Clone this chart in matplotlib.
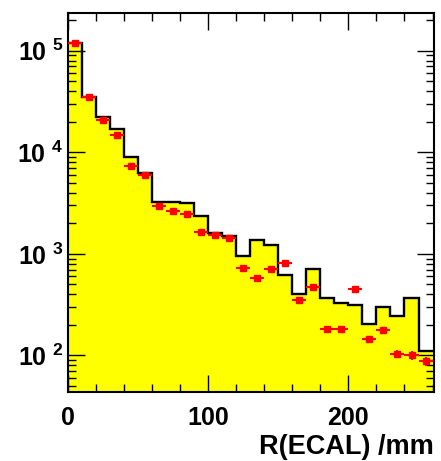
import numpy as np
import matplotlib.pyplot as plt
from matplotlib.ticker import MultipleLocator, LogLocator, FixedLocator, NullFormatter

plt.rcParams['font.family'] = ['Liberation Sans', 'DejaVu Sans']
plt.rcParams['font.weight'] = 'bold'
plt.rcParams['mathtext.fontset'] = 'custom'
plt.rcParams['mathtext.rm'] = 'Liberation Sans:bold'
plt.rcParams['mathtext.bf'] = 'Liberation Sans:bold'

# bin edges, R(ECAL) in mm
edges = np.arange(0, 270, 10)
# simulation (yellow histogram)
mc = [1.2e5, 3.52e4, 2.24e4, 1.68e4, 9.0e3, 6.2e3, 3.23e3, 3.23e3, 3.14e3, 2.35e3,
      1.59e3, 1.5e3, 948, 1.36e3, 1.22e3, 617, 401, 707, 364, 325,
      312, 206, 297, 245, 364, 111]
# data (red points)
data = [1.18e5, 3.47e4, 2.07e4, 1.47e4, 7.36e3, 6.0e3, 2.97e3, 2.64e3, 2.48e3, 1.65e3,
        1.55e3, 1.44e3, 728, 585, 706, 804, 350, 473, 182, 182,
        446, 144, 177, 104, 100, 88]

fig = plt.figure(figsize=(4.41, 4.61), dpi=100)
ax = fig.add_axes([0.154, 0.150, 0.830, 0.8225])

ax.stairs(mc, edges, fill=True, color='#ffff00', baseline=1)
ax.stairs(mc, edges, color='black', linewidth=1.7, baseline=None)

centers = (edges[:-1] + edges[1:]) / 2
data = np.array(data, dtype=float)
ax.errorbar(centers, data, xerr=5, yerr=np.sqrt(data), fmt='s', color='red',
            markersize=4, elinewidth=1.5, capsize=0, zorder=5)

ax.set_yscale('log')
ax.set_xlim(0, 261)
ax.set_ylim(43.8, 2.37e5)

ax.xaxis.set_major_locator(MultipleLocator(100))
ax.xaxis.set_minor_locator(MultipleLocator(20))
ax.yaxis.set_major_locator(FixedLocator([1e2, 1e3, 1e4, 1e5]))
ax.yaxis.set_minor_locator(LogLocator(base=10, subs=np.arange(2, 10)))
ax.yaxis.set_minor_formatter(NullFormatter())
ax.set_yticklabels([r'$\mathregular{10^{\ 2}}$', r'$\mathregular{10^{\ 3}}$',
                    r'$\mathregular{10^{\ 4}}$', r'$\mathregular{10^{\ 5}}$'])

ax.tick_params(which='both', direction='in', top=True, right=True, width=1.0,
               labelsize=18)
ax.tick_params(which='major', length=12)
ax.tick_params(which='minor', length=6)
ax.tick_params(axis='x', pad=10)
for s in ax.spines.values():
    s.set_linewidth(1.5)

ax.set_xlabel('R(ECAL) /mm', fontsize=19.5, fontweight='bold', loc='right', labelpad=3)

fig.savefig('out.png', dpi=100)
